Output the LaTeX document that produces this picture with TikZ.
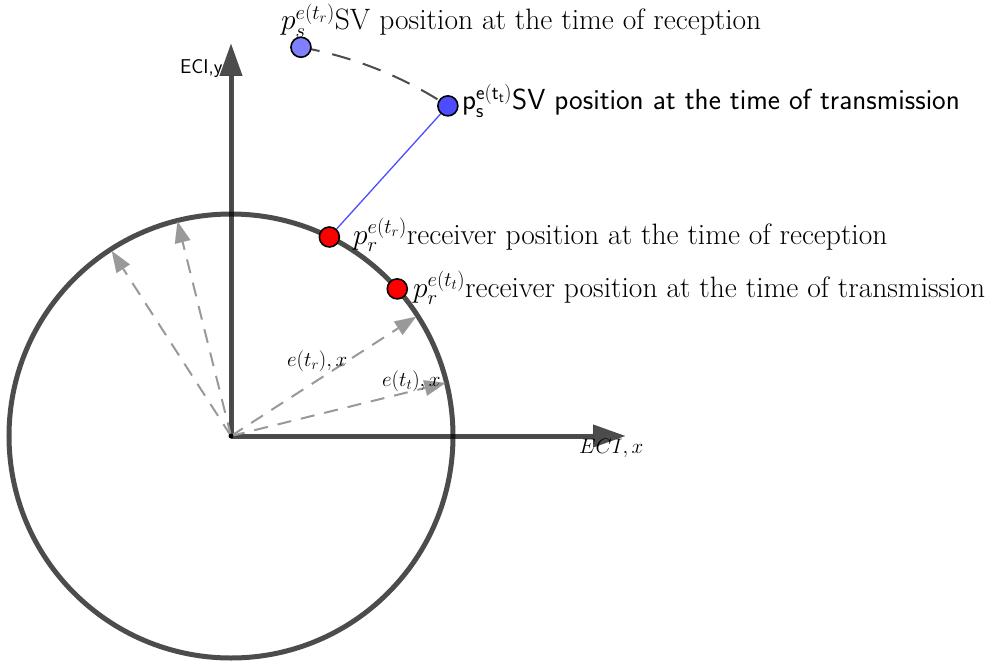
\RequirePackage{fix-cm}
\documentclass[tikz,border=0pt]{standalone}
\usetikzlibrary{arrows.meta,calc}
\definecolor{lightsv}{HTML}{8080FF}
\definecolor{darksv}{HTML}{4D4DFF}
\definecolor{recv}{HTML}{FF0000}
\definecolor{dashgray}{HTML}{999999}
\newcommand{\bigfont}{\fontsize{29.5}{35}\selectfont}
\newcommand{\smallfont}{\fontsize{21}{25}\selectfont}
\tikzset{
  axis/.style={draw=black,fill=black,opacity=0.7,line width=5pt,-{Triangle[length=32pt,width=23pt,line width=0.01pt]}},
  earth/.style={draw=black,draw opacity=0.7,line width=5pt},
  ray/.style={draw=dashgray,line width=2pt,dash pattern=on 14pt off 10pt,-{Triangle[length=21pt,width=16pt,fill=dashgray,line width=0.01pt]}},
  pt/.style={circle,draw=black,line width=1.6pt,minimum size=20pt,inner sep=0pt},
  biglabel/.style={anchor=base west,inner sep=0pt,font=\bigfont},
  smalllabel/.style={anchor=base west,inner sep=0pt,font=\smallfont},
}
\begin{document}
\begin{tikzpicture}[x=1pt,y=-1pt]
\useasboundingbox (0,0) rectangle (996,661);
\coordinate (O) at (231,436);
% earth
\draw[earth] (O) circle[radius=222];
% axes
\coordinate (ytip) at (231,44);
\coordinate (xtip) at (625,436);
\draw[axis] (O) -- (ytip);
\draw[axis] (O) -- (xtip);
% dashed rays
\coordinate (r1) at ($(O)+(-13.9:221)$);
\coordinate (r2) at ($(O)+(-32.8:220)$);
\coordinate (r3) at ($(O)+(-104:221)$);
\coordinate (r4) at ($(O)+(-122.8:220)$);
\draw[ray] (O) -- (r1);
\draw[ray] (O) -- (r2);
\draw[ray] (O) -- (r3);
\draw[ray] (O) -- (r4);
\fill[black] (O) circle[radius=2.5];
% SV orbit arc
\draw[draw=black!70,line width=2pt,dash pattern=on 19pt off 13pt] ($(O)+(-79.8:395)$) arc[start angle=-79.8,end angle=-56.7,radius=395];
% points
\node[pt,fill=lightsv] (psr) at ($(O)+(-79.8:395)$) {};
\node[pt,fill=darksv] (pst) at ($(O)+(-56.7:395)$) {};
\node[pt,fill=recv] (prr) at ($(O)+(-63.7:222)$) {};
\node[pt,fill=recv] (prt) at ($(O)+(-41.5:222)$) {};
\draw[darksv,line width=1.3pt] (pst) -- (prr);
% labels
\node[biglabel] (lpsr) at (281,30) {$p_s^{e(t_r)}$SV position at the time of reception};
\node[biglabel,font=\fontsize{29}{35}\selectfont\sffamily] (lpst) at (462,110) {p$_{\mathsf{s}}^{\mathsf{e(t_t)}}$SV position at the time of transmission};
\node[biglabel] (lprr) at (353,244) {$p_r^{e(t_r)}$receiver position at the time of reception};
\node[biglabel] (lprt) at (413,297) {$p_r^{e(t_t)}$receiver position at the time of transmission};
\node[smalllabel,font=\fontsize{20}{24}\selectfont\sffamily] (ly) at (180,74) {ECI,y};
\node[smalllabel] (lx) at (579,453) {$ECI,x$};
\node[smalllabel] (le1) at (287,366) {$e(t_r),x$};
\node[smalllabel] (le2) at (382,386) {$e(t_t),x$};
\end{tikzpicture}
\end{document}
